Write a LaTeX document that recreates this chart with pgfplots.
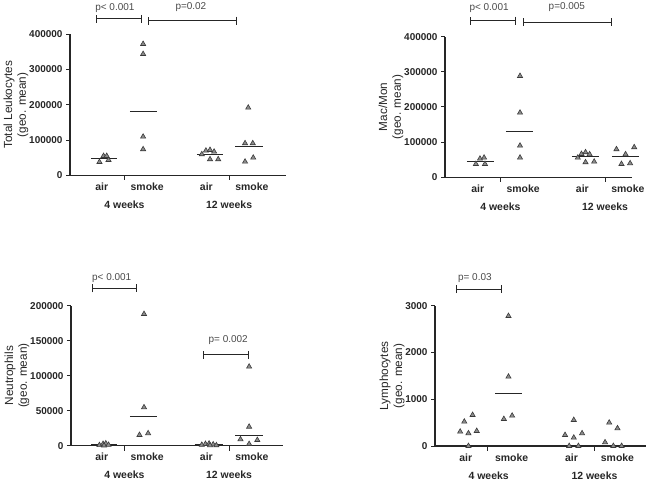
\documentclass[border=0pt]{standalone}
\usepackage{pgfplots}
\pgfplotsset{compat=1.18}
\usepackage{fontspec}
\setmainfont{Liberation Sans}
\usetikzlibrary{arrows.meta}
\definecolor{mkfill}{HTML}{8C8C8C}
\definecolor{mkdraw}{HTML}{3A3A3A}
\definecolor{axc}{HTML}{262626}
\definecolor{pc}{HTML}{4A4A4A}
\pgfplotsset{
 panel/.style={
  scale only axis, enlargelimits=false, clip=false,
  anchor=south west,
  axis x line=bottom, axis y line=left,
  axis line style={-, line width=1.1pt, color=axc},
  tick align=outside,
  major tick length=4bp,
  tick style={line width=1pt, color=axc},
  ymin=0,
  xtick={0,1,2.3,3.3},
  xticklabels={air,smoke,air,smoke},
  x tick style={draw=none},
  x tick label style={font=\fontsize{10.5}{12}\selectfont\bfseries, text=axc},
  extra x ticks={0.5,2.8},
  extra x tick labels={4 weeks,12 weeks},
  extra x tick style={tick label style={yshift=-18bp}},
  y tick label style={font=\fontsize{10}{12}\selectfont\bfseries, text=axc},
  scaled y ticks=false,
  /pgf/number format/assume math mode=true,
  yticklabel style={/pgf/number format/fixed, /pgf/number format/1000 sep={}},
  ylabel style={align=center, font=\fontsize{11.8}{14}\selectfont, text=axc},
  ylabel shift=-6bp,
 },
 pts/.style={only marks, mark=triangle*, mark size=3pt, mark options={fill=mkfill, draw=mkdraw, line width=0.6pt}},
 mline/.style={no markers, line width=1pt, color=axc},
}
\tikzset{
 br/.style={line width=1pt, color=axc, {Bar[width=8bp]}-{Bar[width=8bp]}},
 pv/.style={font=\fontsize{10}{12}\selectfont, text=pc},
 sep/.style={line width=1pt, color=axc},
}
\begin{document}
\begin{tikzpicture}
\path[use as bounding box] (0,0) rectangle (662bp,483bp);

% Panel 1: Total Leukocytes
\begin{axis}[panel, at={(70bp,307.7bp)}, width=216bp, height=141bp,
  xmin=-0.697, xmax=4.05, ymax=400000, ytick={0,100000,200000,300000,400000},
  ylabel={Total Leukocytes\\(geo. mean)}]
\addplot[pts] coordinates {(-0.05,37700) (0.04,54800) (0.11,54800) (0.15,43400)};
\addplot[mline] coordinates {(-0.24,47100) (0.34,47100)};
\addplot[pts] coordinates {(0.91,372500) (0.91,344000) (0.91,109500) (0.91,73800)};
\addplot[mline] coordinates {(0.62,179600) (1.21,179600)};
\addplot[pts] coordinates {(2.20,59600) (2.29,69800) (2.38,71800) (2.47,67000) (2.38,45400) (2.56,45400)};
\addplot[mline] coordinates {(2.09,60400) (2.67,60400)};
\addplot[pts] coordinates {(3.15,90800) (3.32,90800) (3.15,38600) (3.33,49900) (3.22,191800)};
\addplot[mline] coordinates {(2.93,80300) (3.54,80300)};
\draw[sep] (axis cs:0.5,0) -- ([yshift=-5bp]axis cs:0.5,0);
\draw[sep] (axis cs:2.8,0) -- ([yshift=-5bp]axis cs:2.8,0);
\draw[br] (axis cs:-0.13,443400) -- (axis cs:0.88,443400);
\draw[br] (axis cs:1.02,438600) -- (axis cs:2.97,438600);
\node[pv] at (axis cs:0.29,475500) {p< 0.001};
\node[pv] at (axis cs:1.96,478300) {p=0.02};
\end{axis}

% Panel 2: Mac/Mon
\begin{axis}[panel, at={(445bp,305.7bp)}, width=186.7bp, height=140.6bp,
  xmin=-0.719, xmax=3.385, ymax=400000, ytick={0,100000,200000,300000,400000},
  ylabel={Mac/Mon\\(geo. mean)}]
\addplot[pts] coordinates {(-0.04,37800) (0.05,52900) (0.14,55800) (0.16,37800)};
\addplot[mline] coordinates {(-0.24,44400) (0.36,44400)};
\addplot[pts] coordinates {(0.93,288200) (0.93,183800) (0.93,89900) (0.93,55800)};
\addplot[mline] coordinates {(0.62,128900) (1.22,128900)};
\addplot[pts] coordinates {(2.20,55800) (2.28,66300) (2.37,71100) (2.46,65400) (2.37,42700) (2.56,44400)};
\addplot[mline] coordinates {(2.07,58600) (2.67,58600)};
\addplot[pts] coordinates {(3.05,79700) (3.25,65400) (3.44,85400) (3.16,37800) (3.35,39800)};
\addplot[mline] coordinates {(2.95,57800) (3.55,57800)};
\draw[sep] (axis cs:0.5,0) -- ([yshift=-5bp]axis cs:0.5,0);
\draw[sep] (axis cs:2.8,0) -- ([yshift=-5bp]axis cs:2.8,0);
\draw[br] (axis cs:-0.17,445500) -- (axis cs:0.84,445500);
\draw[br] (axis cs:0.99,441800) -- (axis cs:2.95,441800);
\node[pv] at (axis cs:0.25,480800) {p< 0.001};
\node[pv] at (axis cs:1.96,485000) {p=0.005};
\end{axis}

% Panel 3: Neutrophils
\begin{axis}[panel, at={(71bp,37.3bp)}, width=211.7bp, height=140bp,
  xmin=-0.675, xmax=3.978, ymax=200000, ytick={0,50000,100000,150000,200000},
  ylabel={Neutrophils\\(geo. mean)}]
\addplot[pts] coordinates {(-0.05,800) (0.03,2500) (0.09,3200) (0.15,1200) (0.05,300)};
\addplot[mline] coordinates {(-0.24,1400) (0.34,1400)};
\addplot[pts] coordinates {(0.93,188100) (0.93,54800) (0.83,15300) (1.02,17700)};
\addplot[mline] coordinates {(0.62,41400) (1.21,41400)};
\addplot[pts] coordinates {(2.20,1200) (2.28,2500) (2.36,3000) (2.45,1800) (2.38,500) (2.52,600)};
\addplot[mline] coordinates {(2.04,1400) (2.66,1400)};
\addplot[pts] coordinates {(3.24,112900) (3.24,27100) (3.05,9100) (3.24,2400) (3.42,8100)};
\addplot[mline] coordinates {(2.93,14800) (3.55,14800)};
\draw[sep] (axis cs:0.5,0) -- ([yshift=-5bp]axis cs:0.5,0);
\draw[sep] (axis cs:2.8,0) -- ([yshift=-5bp]axis cs:2.8,0);
\draw[br] (axis cs:-0.22,224900) -- (axis cs:0.78,224900);
\node[pv] at (axis cs:0.22,240000) {p< 0.001};
\draw[br] (axis cs:2.23,129600) -- (axis cs:3.24,129600);
\node[pv] at (axis cs:2.78,151000) {p= 0.002};
\end{axis}

% Panel 4: Lymphocytes
\begin{axis}[panel, at={(435bp,37bp)}, width=211bp, height=140.3bp,
  xmin=-0.667, xmax=3.92, ymax=3000, ytick={0,1000,2000,3000},
  ylabel={Lymphocytes\\(geo. mean)}]
\addplot[pts] coordinates {(-0.12,306) (-0.03,520) (0.15,663) (0.06,271) (0.24,321) (0.06,0)};
\addplot[pts] coordinates {(0.93,2780) (0.93,1482) (0.83,577) (1.01,648)};
\addplot[mline] coordinates {(0.64,1127) (1.23,1127)};
\addplot[pts] coordinates {(2.16,235) (2.25,0) (2.35,178) (2.45,0) (2.53,271) (2.35,556)};
\addplot[pts] coordinates {(3.03,78) (3.12,499) (3.21,0) (3.30,378) (3.39,0)};
\draw[sep] (axis cs:0.48,0) -- ([yshift=-5bp]axis cs:0.48,0);
\draw[sep] (axis cs:2.79,0) -- ([yshift=-5bp]axis cs:2.79,0);
\draw[br] (axis cs:-0.21,3357) -- (axis cs:0.78,3357);
\node[pv] at (axis cs:0.2,3599) {p= 0.03};
\end{axis}
\end{tikzpicture}
\end{document}
